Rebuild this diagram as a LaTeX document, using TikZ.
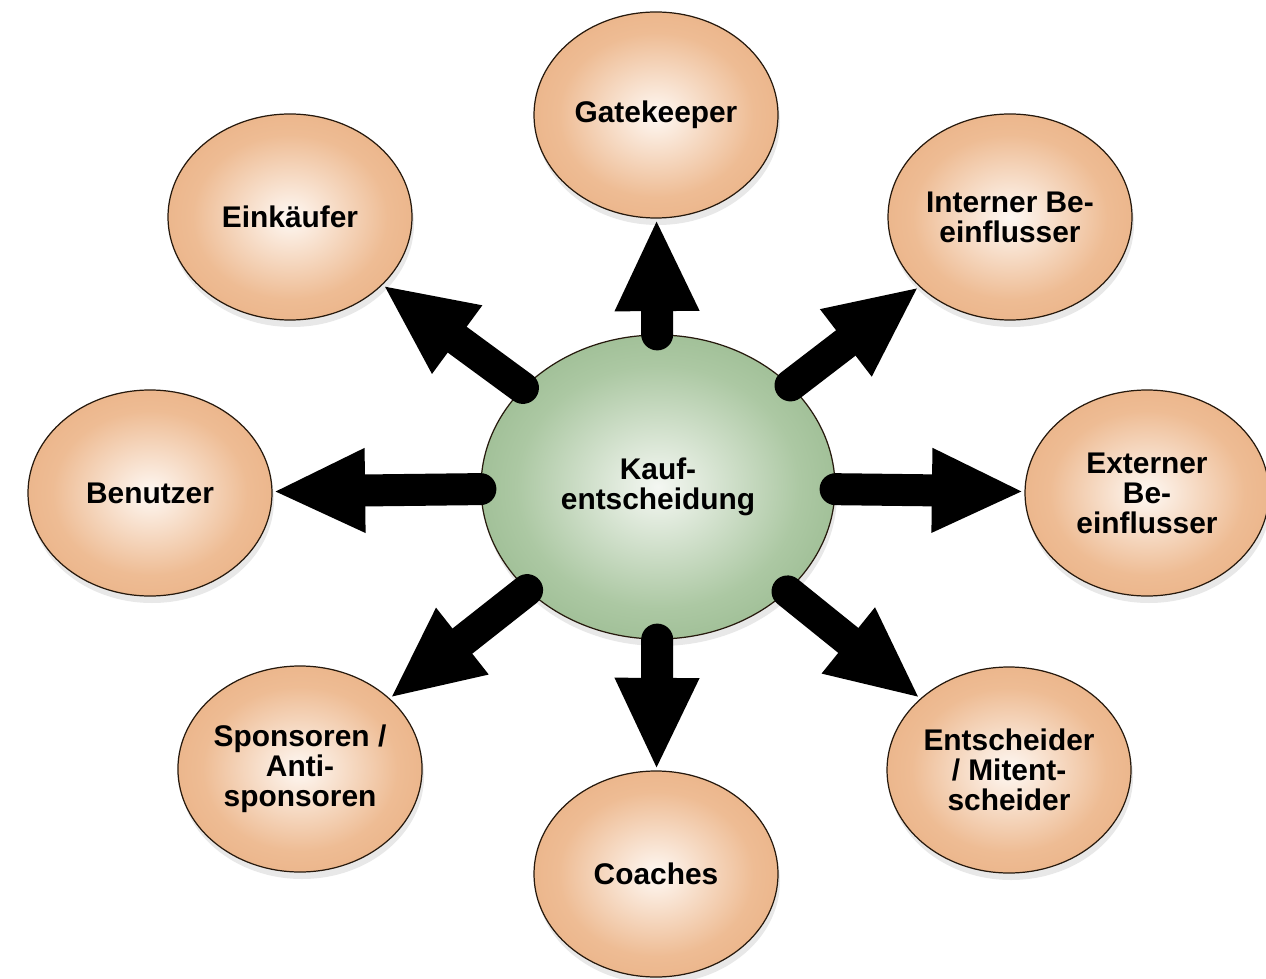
\documentclass[tikz,border=0pt]{standalone}
\usepackage{fontspec}
\setmainfont{Liberation Sans}
\usepackage{tikz}
\usetikzlibrary{arrows.meta,shapes.geometric,shadows}

\definecolor{peachin}{RGB}{254,248,243}
\definecolor{peachmid}{RGB}{238,188,148}
\definecolor{peachout}{RGB}{226,156,104}
\definecolor{greenin}{RGB}{244,247,242}
\definecolor{greenmid}{RGB}{172,200,163}
\definecolor{greenout}{RGB}{112,156,102}
\pgfdeclareradialshading{peachball}{\pgfpoint{0cm}{0cm}}{color(0bp)=(peachin); color(20bp)=(peachmid); color(50bp)=(peachout)}
\pgfdeclareradialshading{greenball}{\pgfpoint{0cm}{0cm}}{color(0bp)=(greenin); color(20bp)=(greenmid); color(50bp)=(greenout)}

\tikzset{
  ball/.style={ellipse,draw=black!80!brown,line width=0.7pt,align=center,
    font=\fontsize{17}{17}\selectfont\bfseries,inner sep=0pt,
    drop shadow={shadow xshift=0.4mm,shadow yshift=-1.4mm,opacity=0.18}},
  role/.style={ball,shading=peachball,minimum width=4.88cm,minimum height=4.12cm},
  hub/.style={ball,shading=greenball,minimum width=7.08cm,minimum height=6.08cm},
  bigarrow/.style={line width=0.64cm,line cap=round,-{Triangle[length=1.85cm,width=1.55cm]}}
}

\begin{document}
\begin{tikzpicture}
\useasboundingbox (0,0) rectangle (25.32,-19.58);

\node[hub] (K) at (13.16,-9.74) {Kauf-\\entscheidung};

\node[role] (G) at (13.12,-2.30) {Gatekeeper};
\node[role] (E) at (5.80,-4.34) {Einkäufer};
\node[role] (I) at (20.20,-4.34) {Interner Be-\\einflusser};
\node[role] (B) at (3.00,-9.86) {Benutzer};
\node[role] (X) at (22.94,-9.86) {Externer\\Be-\\einflusser};
\node[role] (S) at (6.00,-15.38) {Sponsoren /\\Anti-\\sponsoren};
\node[role] (C) at (13.12,-17.48) {Coaches};
\node[role] (M) at (20.18,-15.40) {Entscheider\\/ Mitent-\\scheider};

\draw[bigarrow] (K) -- (G); \draw[bigarrow] (K) -- (E); \draw[bigarrow] (K) -- (I);
\draw[bigarrow] (K) -- (B); \draw[bigarrow] (K) -- (X);
\draw[bigarrow] (K) -- (S); \draw[bigarrow] (K) -- (C); \draw[bigarrow] (K) -- (M);

\end{tikzpicture}
\end{document}
